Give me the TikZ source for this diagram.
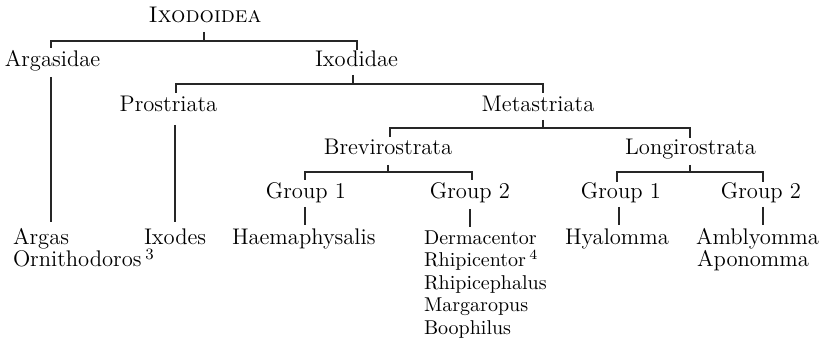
\documentclass[tikz,border=0pt]{standalone}
\begin{document}
\begin{tikzpicture}[x=0.5pt,y=-0.5pt,
  taxon/.style={inner sep=0pt,outer sep=0pt,font=\fontsize{11.3}{13}\selectfont},
  genus/.style={taxon,anchor=base west},
  rank/.style={taxon,anchor=base},
  slim/.style={genus,font=\fontsize{10}{12}\selectfont},
  rule/.style={line width=0.55pt,draw=black!85}]
\useasboundingbox (0,0) rectangle (834,341);

% higher ranks
\node[rank] (ixodoidea) at (205,23) {\textsc{Ixodoidea}};
\node[rank] (argasidae) at (52.5,67) {Argasidae};
\node[rank] (ixodidae) at (356.5,67) {Ixodidae};
\node[rank] (prostriata) at (168.5,112) {Prostriata};
\node[rank] (metastriata) at (538,112) {Metastriata};
\node[rank] (brevirostrata) at (388,155) {Brevirostrata};
\node[rank] (longirostrata) at (690.5,155) {Longirostrata};
\node[rank] (bgroupa) at (306,199) {Group 1};
\node[rank] (bgroupb) at (470,199) {Group 2};
\node[rank] (lgroupa) at (621,199) {Group 1};
\node[rank] (lgroupb) at (761,199) {Group 2};

% genera
\node[genus] (argas) at (13,244.5) {Argas};
\node[genus] (ornithodoros) at (13,267) {Ornithodoros\,\textsuperscript{3}};
\node[genus] (ixodes) at (144,244.5) {Ixodes};
\node[genus] (haemaphysalis) at (232,244.5) {Haemaphysalis};
\node[slim] (dermacentor) at (424,244.5) {Dermacentor};
\node[slim] (rhipicentor) at (424,267) {Rhipicentor\,\textsuperscript{4}};
\node[slim] (rhipicephalus) at (424,289.5) {Rhipicephalus};
\node[slim] (margaropus) at (424,312) {Margaropus};
\node[slim] (boophilus) at (424,334.5) {Boophilus};
\node[genus] (hyalomma) at (565,244.5) {Hyalomma};
\node[genus] (amblyomma) at (696,244.5) {Amblyomma};
\node[genus] (aponomma) at (697,267) {Aponomma};

% bracket end points
\coordinate (t0a) at (204,32);   \coordinate (t0b) at (204,41);
\coordinate (b0l) at (51,48);    \coordinate (b0r) at (357,50);
\coordinate (t1a) at (353,75);   \coordinate (t1b) at (353,84);
\coordinate (b1l) at (176,93);   \coordinate (b1r) at (543,93);
\coordinate (t2a) at (543,120);  \coordinate (t2b) at (543,128);
\coordinate (b2l) at (390,137);  \coordinate (b2r) at (690,138);
\coordinate (t3a) at (388,165);  \coordinate (t3b) at (388,172);
\coordinate (b3l) at (305,180);  \coordinate (b3r) at (472,180);
\coordinate (t4a) at (690,165);  \coordinate (t4b) at (690,172);
\coordinate (b4l) at (617,182);  \coordinate (b4r) at (763,182);

% brackets
\draw[rule] (t0a) -- (t0b);  \draw[rule] (b0l) |- (t0b) -| (b0r);
\draw[rule] (t1a) -- (t1b);  \draw[rule] (b1l) |- (t1b) -| (b1r);
\draw[rule] (t2a) -- (t2b);  \draw[rule] (b2l) |- (t2b) -| (b2r);
\draw[rule] (t3a) -- (t3b);  \draw[rule] (b3l) |- (t3b) -| (b3r);
\draw[rule] (t4a) -- (t4b);  \draw[rule] (b4l) |- (t4b) -| (b4r);

% stems down to the genera
\coordinate (s1) at (51,77);   \coordinate (e1) at (51,222);
\coordinate (s2) at (175,125); \coordinate (e2) at (175,222);
\coordinate (s3) at (305,207); \coordinate (e3) at (305,225);
\coordinate (s4) at (470,209); \coordinate (e4) at (470,227);
\coordinate (s5) at (619,207); \coordinate (e5) at (619,225);
\coordinate (s6) at (763,207); \coordinate (e6) at (763,225);
\foreach \i in {1,...,6} \draw[rule] (s\i) -- (e\i);
\end{tikzpicture}
\end{document}
